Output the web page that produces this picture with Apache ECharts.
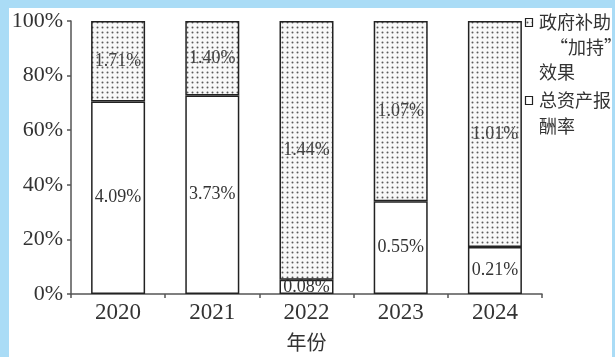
<!DOCTYPE html>
<html><head><meta charset="utf-8">
<script src="https://cdn.jsdelivr.net/npm/echarts@6/dist/echarts.min.js"></script>
<style>html,body{margin:0;padding:0;background:#fff}#c{width:615px;height:357px}</style>
</head><body><div id="c"></div>
<script>
const years = ['2020','2021','2022','2023','2024'];
const roa = [4.09, 3.73, 0.08, 0.55, 0.21];        // 总资产报酬率 (%)
const subsidy = [1.71, 1.40, 1.44, 1.07, 1.01];    // 政府补助“加持”效果 (%)
const yTicks = ['0%','20%','40%','60%','80%','100%'];
const legendNames = ['政府补助\n“加持”\n效果', '总资产报\n酬率'];

const total = roa.map((v,i)=>v+subsidy[i]);
const roaShare = roa.map((v,i)=>v/total[i]*100);
const subShare = subsidy.map((v,i)=>v/total[i]*100);

function dots(){
  const c=document.createElement('canvas'); c.width=5; c.height=5;
  const g=c.getContext('2d'); g.fillStyle='#f8f8f8'; g.fillRect(0,0,5,5);
  g.fillStyle='#5a5a5a'; g.beginPath(); g.arc(2.5,2.5,1.0,0,Math.PI*2); g.fill();
  return c;
}
const pat = {image: dots(), repeat: 'repeat'};
const serif = 'Liberation Serif';
const cjk = 'Noto Sans CJK SC';
const ink = '#333';

const chart = echarts.init(document.getElementById('c'));
chart.setOption({
  animation:false,
  backgroundColor:'#fff',
  textStyle:{fontFamily:serif},
  grid:{left:71,right:73,top:21,bottom:55},
  xAxis:{type:'category',data:years,
    axisLine:{lineStyle:{color:'#555',width:1.5}},
    axisTick:{show:true,length:4,lineStyle:{color:'#555',width:1.5}},
    axisLabel:{fontFamily:serif,fontSize:23,color:ink,margin:7},
    name:'年份',nameLocation:'middle',nameGap:38,
    nameTextStyle:{fontFamily:cjk,fontSize:20,color:ink}},
  yAxis:{type:'value',min:0,max:100,interval:20,
    axisLine:{show:true,lineStyle:{color:'#555',width:1.5}},
    axisTick:{show:true,length:4,lineStyle:{color:'#555',width:1.5}},
    splitLine:{show:false},
    axisLabel:{fontFamily:serif,fontSize:22,color:ink,margin:8,
      formatter:(v)=>yTicks[Math.round(v/20)]}},
  series:[
    {name:legendNames[1],type:'bar',stack:'t',barWidth:54,data:roaShare,
     itemStyle:{color:'#fff',borderColor:'#222',borderWidth:1.5},
     label:{show:true,position:'inside',fontFamily:serif,fontSize:18,color:ink,
       formatter:(p)=>roa[p.dataIndex].toFixed(2)+'%'}},
    {name:legendNames[0],type:'bar',stack:'t',barWidth:54,data:subShare,
     itemStyle:{color:pat,borderColor:'#222',borderWidth:1.5},
     label:{show:true,position:'inside',fontFamily:serif,fontSize:18,color:'#444',
       formatter:(p)=>subsidy[p.dataIndex].toFixed(2)+'%'}}
  ],
  graphic:[
    {type:'rect',left:0,top:0,shape:{width:615,height:8},style:{fill:'#aadcf6'},z:100},
    {type:'rect',left:0,top:0,shape:{width:9,height:357},style:{fill:'#aadcf6'},z:100},
    {type:'rect',left:612,top:0,shape:{width:3,height:357},style:{fill:'#aadcf6'},z:100},
    {type:'rect',shape:{x:525.5,y:18.5,width:7,height:8},style:{fill:pat,stroke:'#222',lineWidth:1.2},z:100},
    {type:'text',x:539,y:22,style:{text:'政府补助',fontFamily:cjk,fontSize:18,fill:ink,verticalAlign:'middle'},z:100},
    {type:'text',x:550,y:47,style:{text:'“加持”',fontFamily:cjk,fontSize:18,fill:ink,verticalAlign:'middle'},z:100},
    {type:'text',x:539,y:72,style:{text:'效果',fontFamily:cjk,fontSize:18,fill:ink,verticalAlign:'middle'},z:100},
    {type:'rect',shape:{x:525.5,y:96.5,width:7,height:8},style:{fill:'#fff',stroke:'#222',lineWidth:1.2},z:100},
    {type:'text',x:539,y:100,style:{text:'总资产报',fontFamily:cjk,fontSize:18,fill:ink,verticalAlign:'middle'},z:100},
    {type:'text',x:539,y:126,style:{text:'酬率',fontFamily:cjk,fontSize:18,fill:ink,verticalAlign:'middle'},z:100}
  ]
});
</script></body></html>
